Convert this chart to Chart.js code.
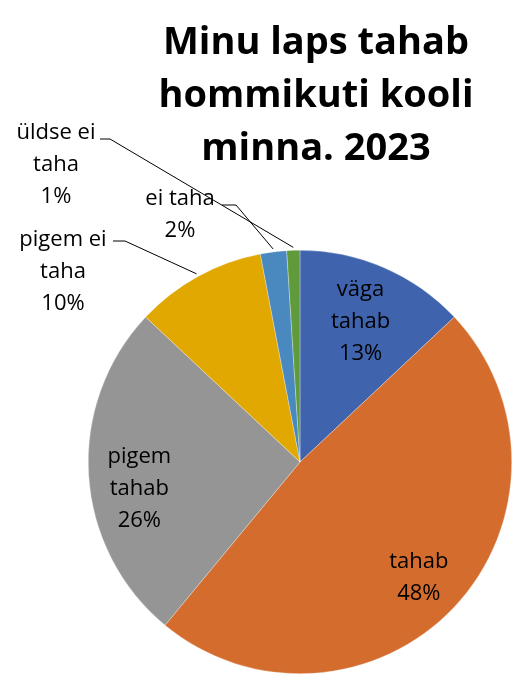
<!DOCTYPE html>
<html>
<head>
<meta charset="utf-8">
<script src="https://cdn.jsdelivr.net/npm/chart.js@4"></script>
<style>
  html, body { margin: 0; padding: 0; background: #fff; overflow: hidden; }
  #wrap { width: 512px; height: 675px; }
</style>
</head>
<body>
<div id="wrap"><canvas id="pie" width="512" height="675"></canvas></div>
<script>
var titleLines = ['Minu laps tahab', 'hommikuti kooli', 'minna. 2023']
var categories = ['väga tahab', 'tahab', 'pigem tahab', 'pigem ei taha', 'ei taha', 'üldse ei taha']
var values     = [13, 48, 26, 10, 2, 1]
var labelLines = [['väga', 'tahab'], ['tahab'], ['pigem', 'tahab'], ['pigem ei', 'taha'], ['ei taha'], ['üldse ei', 'taha']]

var colors = ['#3f64ad', '#d36c2c', '#959595', '#e0a800', '#4a88c0', '#5f9b3b']
var font   = "'Open Sans', 'Lato', sans-serif"

// label placement: inside ones use a radius fraction, outside ones a fixed anchor + leader line
var labelStyle = [
  { inside: true, f: 0.72, dx: 0, dy: 0 },
  { inside: true, f: 0.77, dx: 0, dy: 4 },
  { inside: true, f: 0.76, dx: 0, dy: 17 },
  { inside: false, x: 63, y: 240, lx: 113, ly: 241, hx: 125 },
  { inside: false, x: 180, y: 199, lx: 222, ly: 205, hx: 236 },
  { inside: false, x: 56, y: 133, lx: 100, ly: 139, hx: 110 }
]

var titlePlugin = {
  id: 'titleText',
  afterDraw: function (chart) {
    var ctx = chart.ctx
    ctx.save()
    ctx.fillStyle = '#000'
    ctx.font = 'bold 38px ' + font
    ctx.textAlign = 'center'
    ctx.textBaseline = 'middle'
    titleLines.forEach(function (t, i) {
      ctx.fillText(t, 316, 43 + i * 53)
    })
    ctx.restore()
  }
}

var labelPlugin = {
  id: 'sliceLabels',
  afterDraw: function (chart) {
    var ctx = chart.ctx
    var meta = chart.getDatasetMeta(0)
    var total = values.reduce(function (a, b) { return a + b }, 0)
    var lh = 32
    ctx.save()
    ctx.fillStyle = '#000'
    ctx.font = '22px ' + font
    ctx.textAlign = 'center'
    ctx.textBaseline = 'middle'
    meta.data.forEach(function (arc, i) {
      var s = labelStyle[i]
      var lines = labelLines[i].concat([Math.round(values[i] / total * 100) + '%'])
      var mid = (arc.startAngle + arc.endAngle) / 2
      if (s.inside) {
        var r = arc.outerRadius * s.f
        var cx = arc.x + Math.cos(mid) * r + s.dx
        var cy = arc.y + Math.sin(mid) * r + s.dy
        var y0 = cy - (lines.length - 1) * lh / 2
        lines.forEach(function (t, k) { ctx.fillText(t, cx, y0 + k * lh) })
      } else {
        lines.forEach(function (t, k) { ctx.fillText(t, s.x, s.y + k * lh) })
        var ex = arc.x + Math.cos(mid) * (arc.outerRadius + 3)
        var ey = arc.y + Math.sin(mid) * (arc.outerRadius + 3)
        ctx.beginPath()
        ctx.strokeStyle = '#000'
        ctx.lineWidth = 1
        ctx.moveTo(s.lx, s.ly)
        ctx.lineTo(s.hx, s.ly)
        ctx.lineTo(ex, ey)
        ctx.stroke()
      }
    })
    ctx.restore()
  }
}

new Chart(document.getElementById('pie'), {
  type: 'pie',
  data: {
    labels: categories,
    datasets: [{
      data: values,
      backgroundColor: colors,
      borderColor: 'rgba(255, 255, 255, 0.6)',
      borderWidth: 0.5
    }]
  },
  options: {
    responsive: false,
    animation: false,
    rotation: 0,
    layout: { padding: { left: 88, top: 250, right: 0, bottom: 1 } },
    plugins: {
      legend: { display: false },
      tooltip: { enabled: false },
      title: { display: false }
    }
  },
  plugins: [titlePlugin, labelPlugin]
})
</script>
</body>
</html>
